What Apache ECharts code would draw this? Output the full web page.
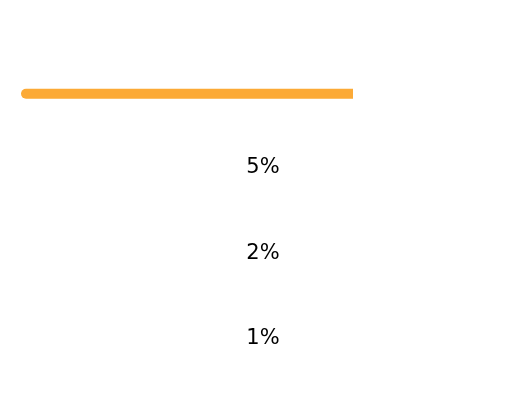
<!DOCTYPE html>
<html><head><meta charset="utf-8">
<script src="https://cdn.jsdelivr.net/npm/echarts@6/dist/echarts.min.js"></script>
<style>html,body{margin:0;padding:0;background:#fff}#c{width:526px;height:393px}</style>
</head><body><div id="c"></div>
<script>
var categories = ['r1', 'r2', 'r3', 'r4'];
var barValues = [68.6, null, null, null];
var rowLabels = ['', '5%', '2%', '1%'];
var fullValues = [null, 100, 100, 100];

var chart = echarts.init(document.getElementById('c'));
chart.setOption({
  animation: false,
  grid: { left: 21, right: 21, top: 51, bottom: -5 },
  xAxis: { type: 'value', min: 0, max: 100, show: false },
  yAxis: { type: 'category', data: categories, inverse: true, show: false },
  series: [
    { type: 'bar', data: barValues, barWidth: 10, barGap: '-100%',
      itemStyle: { color: '#fcaa36', borderRadius: [5, 0, 0, 5] } },
    { type: 'bar', data: fullValues, barWidth: 10, barGap: '-100%',
      itemStyle: { color: 'rgba(0,0,0,0)' },
      label: { show: true, position: 'top', distance: -4,
        formatter: function (p) { return rowLabels[p.dataIndex]; },
        fontFamily: 'DejaVu Sans', fontSize: 21, color: '#000' } }
  ]
});
</script></body></html>
